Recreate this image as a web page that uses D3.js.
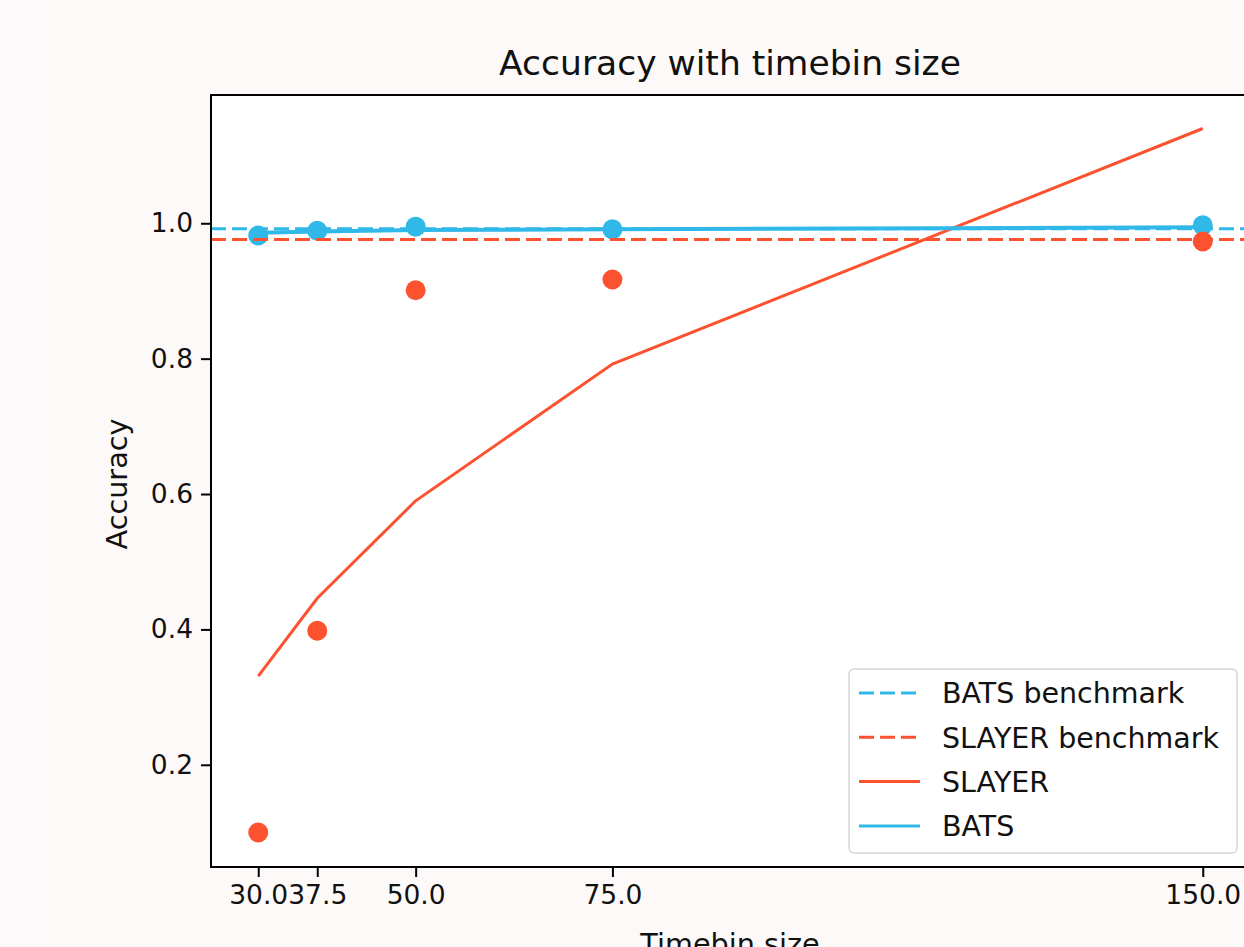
<!DOCTYPE html>
<meta charset="utf-8">
<head>
<script src="https://d3js.org/d3.v7.min.js"></script>
<style>
  body { margin: 0; background: #fdfafc; overflow: hidden; }
  svg { display: block; font-family: "DejaVu Sans", sans-serif; }
</style>
</head>
<body>
<svg id="chart" width="1244" height="947"></svg>
<script>
// data
var timebins = [30, 37.5, 50, 75, 150];
var slayerPoints = [0.10, 0.398, 0.901, 0.917, 0.973];
var slayerLine = [0.331, 0.446, 0.590, 0.792, 1.140];
var batsPoints = [0.982, 0.989, 0.995, 0.991, 0.997];
var batsLine = [0.986, 0.988, 0.990, 0.991, 0.994];
var batsBenchmark = 0.992;
var slayerBenchmark = 0.976;
var yTicks = [0.2, 0.4, 0.6, 0.8, 1.0];

var blue = "#30b9e8", red = "#fc5230";

var svg = d3.select("#chart");
svg.append("rect").attr("x", 42).attr("y", 0).attr("width", 1202).attr("height", 947).attr("fill", "#fcf9f8");

var mLeft = 211, mRight = 1250, mTop = 95, mBottom = 867;
var x = d3.scaleLinear().domain([24, 156]).range([mLeft, mRight]);
var y = d3.scaleLinear().domain([0.049, 1.1895]).range([mBottom, mTop]);

svg.append("rect").attr("x", mLeft).attr("y", mTop).attr("width", mRight - mLeft).attr("height", mBottom - mTop).attr("fill", "#fff");

var plot = svg.append("g");

// scatter
plot.selectAll(".bdot").data(timebins).enter().append("circle")
  .attr("cx", d => x(d)).attr("cy", (d, i) => y(batsPoints[i])).attr("r", 10).attr("fill", blue);
plot.selectAll(".sdot").data(timebins).enter().append("circle")
  .attr("cx", d => x(d)).attr("cy", (d, i) => y(slayerPoints[i])).attr("r", 10).attr("fill", red);

// benchmarks
plot.append("line").attr("x1", mLeft).attr("x2", mRight).attr("y1", y(batsBenchmark)).attr("y2", y(batsBenchmark))
  .attr("stroke", blue).attr("stroke-width", 3).attr("stroke-dasharray", "15,6");
plot.append("line").attr("x1", mLeft).attr("x2", mRight).attr("y1", y(slayerBenchmark)).attr("y2", y(slayerBenchmark))
  .attr("stroke", red).attr("stroke-width", 3).attr("stroke-dasharray", "15,6");

var line = d3.line().x(d => x(d[0])).y(d => y(d[1]));
plot.append("path").attr("d", line(d3.zip(timebins, slayerLine)))
  .attr("fill", "none").attr("stroke", red).attr("stroke-width", 3);
plot.append("path").attr("d", line(d3.zip(timebins, batsLine)))
  .attr("fill", "none").attr("stroke", blue).attr("stroke-width", 4);

// axes
var xAxis = svg.append("g").attr("transform", "translate(0," + mBottom + ")")
  .call(d3.axisBottom(x).tickValues(timebins).tickFormat(d3.format(".1f")).tickSize(10).tickPadding(8));
var yAxis = svg.append("g").attr("transform", "translate(" + mLeft + ",0)")
  .call(d3.axisLeft(y).tickValues(yTicks).tickFormat(d3.format(".1f")).tickSize(10).tickPadding(8));
[xAxis, yAxis].forEach(function (g) {
  g.select(".domain").remove();
  g.selectAll(".tick line").attr("stroke", "#000").attr("stroke-width", 2);
  g.selectAll(".tick text").attr("fill", "#111").style("font-size", "26.5px").style("font-family", "DejaVu Sans");
});
svg.append("rect").attr("x", mLeft).attr("y", mTop).attr("width", mRight - mLeft).attr("height", mBottom - mTop)
  .attr("fill", "none").attr("stroke", "#000").attr("stroke-width", 2);

// labels
svg.append("text").attr("x", 730).attr("y", 75).attr("text-anchor", "middle")
  .style("font-size", "34.5px").attr("fill", "#111").text("Accuracy with timebin size");
svg.append("text").attr("x", 730).attr("y", 954).attr("text-anchor", "middle")
  .style("font-size", "28.7px").attr("fill", "#111").text("Timebin size");
svg.append("text").attr("transform", "translate(127,484) rotate(-90)").attr("text-anchor", "middle")
  .style("font-size", "28.7px").attr("fill", "#111").text("Accuracy");

// legend
var legendItems = [
  { label: "BATS benchmark", color: blue, dash: "15,6" },
  { label: "SLAYER benchmark", color: red, dash: "15,6" },
  { label: "SLAYER", color: red, dash: null },
  { label: "BATS", color: blue, dash: null }
];
var lg = svg.append("g");
lg.append("rect").attr("x", 849).attr("y", 669).attr("width", 388).attr("height", 184).attr("rx", 5)
  .attr("fill", "#fff").attr("fill-opacity", 0.8).attr("stroke", "#d6d6d6").attr("stroke-width", 1.5);
legendItems.forEach(function (d, i) {
  var cy = 693 + i * 44.3;
  lg.append("line").attr("x1", 859).attr("x2", 920).attr("y1", cy).attr("y2", cy)
    .attr("stroke", d.color).attr("stroke-width", 3).attr("stroke-dasharray", d.dash);
  lg.append("text").attr("x", 942).attr("y", cy).attr("dy", "0.36em")
    .style("font-size", "28.5px").attr("fill", "#111").text(d.label);
});
</script>
</body>
</html>
